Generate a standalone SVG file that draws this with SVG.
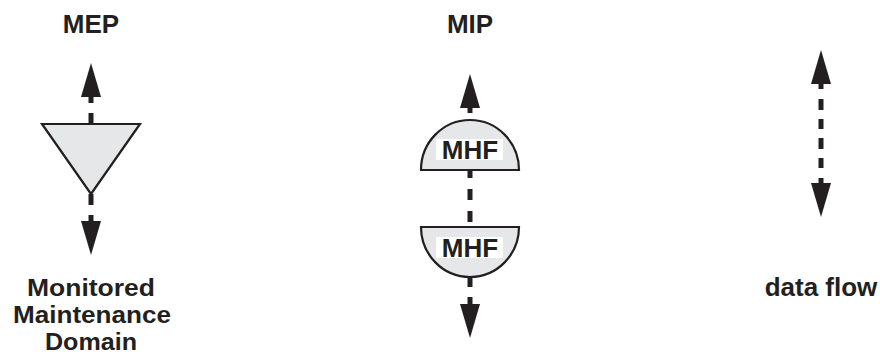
<svg xmlns="http://www.w3.org/2000/svg" width="880" height="360" viewBox="0 0 880 360">
<style>
.lbl{font-family:"Liberation Sans",Arial,sans-serif;font-weight:bold;font-size:26px;fill:#231f20;text-anchor:middle}
.sm{font-size:24px}
.shape{fill:#e6e7e8;stroke:#231f20;stroke-width:2.2}
.seg{stroke:#231f20;stroke-width:5;fill:none}
.head{fill:#231f20}
</style>
<defs>
<path id="up" d="M0,0 L10,34 L-10,34 Z"/>
<path id="down" d="M0,0 L10,-34 L-10,-34 Z"/>
</defs>
<rect width="880" height="360" fill="#ffffff"/>
<g id="connectors">
  <g id="mep-flow">
    <use href="#up" class="head" x="91" y="63"/>
    <line class="seg" x1="91" y1="96" x2="91" y2="103"/>
    <line class="seg" x1="91" y1="113" x2="91" y2="124"/>
    <line class="seg" x1="91" y1="194" x2="91" y2="205"/>
    <line class="seg" x1="91" y1="215" x2="91" y2="222"/>
    <use href="#down" class="head" x="91" y="255"/>
  </g>
  <g id="mip-flow">
    <use href="#up" class="head" x="470" y="74"/>
    <line class="seg" x1="470" y1="107" x2="470" y2="113"/>
    <line class="seg" x1="470" y1="170" x2="470" y2="178"/>
    <line class="seg" x1="470" y1="189" x2="470" y2="200"/>
    <line class="seg" x1="470" y1="211" x2="470" y2="222"/>
    <line class="seg" x1="470" y1="277" x2="470" y2="287"/>
    <line class="seg" x1="470" y1="297" x2="470" y2="305"/>
    <use href="#down" class="head" x="470" y="338"/>
  </g>
  <g id="legend-flow">
    <use href="#up" class="head" x="821" y="50"/>
    <line class="seg" x1="821" y1="83" x2="821" y2="89"/>
    <line class="seg" x1="821" y1="99" x2="821" y2="110"/>
    <line class="seg" x1="821" y1="119" x2="821" y2="129"/>
    <line class="seg" x1="821" y1="138" x2="821" y2="149"/>
    <line class="seg" x1="821" y1="158" x2="821" y2="168"/>
    <line class="seg" x1="821" y1="178" x2="821" y2="185"/>
    <use href="#down" class="head" x="821" y="217"/>
  </g>
</g>
<g id="mep">
  <text class="lbl" x="91" y="33">MEP</text>
  <polygon class="shape" points="42,124 140,124 91,194"/>
  <text class="lbl sm" x="91" y="296" textLength="128" lengthAdjust="spacingAndGlyphs">Monitored</text>
  <text class="lbl sm" x="92" y="323" textLength="158" lengthAdjust="spacingAndGlyphs">Maintenance</text>
  <text class="lbl sm" x="91" y="350" textLength="92" lengthAdjust="spacingAndGlyphs">Domain</text>
</g>
<g id="mip">
  <text class="lbl" x="470" y="33">MIP</text>
</g>
<g id="mhf-top">
  <path class="shape" d="M421,170 A49,50 0 0 1 519,170 Z"/>
  <rect x="436" y="139" width="67" height="21" fill="#ffffff"/>
  <text class="lbl" x="470" y="159">MHF</text>
</g>
<g id="mhf-bottom">
  <path class="shape" d="M421,227 A49,50 0 0 0 519,227 Z"/>
  <rect x="436" y="237" width="67" height="21" fill="#ffffff"/>
  <text class="lbl" x="470" y="257">MHF</text>
</g>
<g id="legend">
  <text class="lbl" x="821" y="296">data flow</text>
</g>
</svg>
